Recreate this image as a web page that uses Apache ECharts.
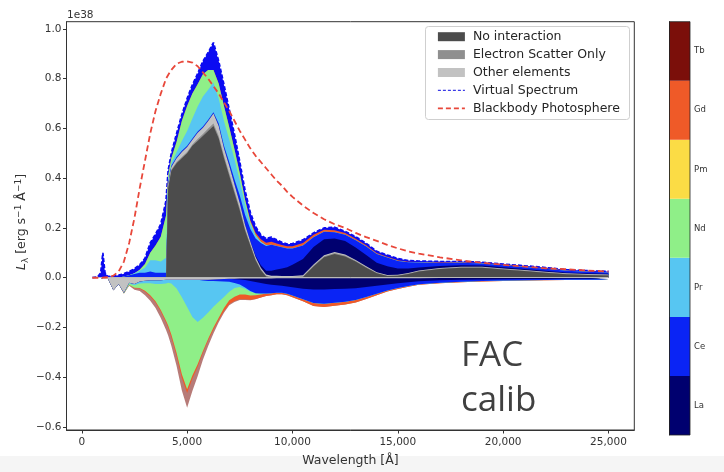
<!DOCTYPE html>
<html><head><meta charset="utf-8">
<script src="https://cdn.jsdelivr.net/npm/echarts@6/dist/echarts.min.js"></script>
<style>html,body{margin:0;padding:0;background:#fff}#c{width:724px;height:472px}</style>
</head><body><div id="c"></div>
<script>
// ---------------- DATA (units of 1e38 erg s^-1 Å^-1) ----------------
const wavelengths = [500,750,900,1000,1100,1250,1500,1750,2000,2250,2500,2750,3000,3250,3500,3750,4000,
  4100,4250,4500,4750,5000,5250,5500,5750,6000,6250,6500,6750,7000,7250,7500,7750,8000,8250,8500,8750,9000,9250,9500,9750,10000,
  10500,11000,11500,12000,12500,13000,13500,14000,14500,15000,15500,16000,17000,18000,19000,20000,21000,22000,23000,24000,25000];

const noInteraction = [0,0,0,0,0,0,0,0,0,0,0,0,0,0,0,0,0,
  0.36,0.43,0.46,0.48,0.5,0.53,0.55,0.57,0.59,0.61,0.56,0.48,0.41,0.34,0.27,0.19,0.13,0.07,0.03,0.005,0,0,0,0,0,
  0.003,0.045,0.082,0.095,0.085,0.065,0.04,0.018,0.007,0.008,0.015,0.025,0.035,0.04,0.04,0.033,0.027,0.02,0.014,0.011,0.009];
const electronScatter = [0,0,0,0,0,0,0,0,0,0,0,0,0,0,0,0,0,
  0.005,0.005,0.005,0.005,0.005,0.005,0.008,0.008,0.01,0.01,0.01,0.01,0.01,0.01,0.01,0.008,0.006,0.005,0.004,0.003,0.003,0.003,0.003,0.003,0.003,
  0.003,0.004,0.004,0.004,0.004,0.003,0.003,0.002,0.002,0.002,0.002,0.002,0.002,0.002,0.002,0.002,0.002,0.002,0.002,0.002,0.002];
const otherEmission = [0,0,0,0,0,0,0,0,0,0,0,0,0,0,0,0,0,
  0.01,0.01,0.015,0.02,0.02,0.02,0.025,0.025,0.03,0.04,0.04,0.03,0.03,0.025,0.02,0.015,0.01,0.008,0.006,0.005,0.005,0.005,0.004,0.004,0.004,
  0.004,0.004,0.004,0.004,0.004,0.003,0.003,0.002,0.002,0.002,0.002,0.002,0.002,0.002,0.002,0.002,0.002,0.002,0.002,0.002,0.002];
const laEmission = [0,0,0,0,0,0,0,0,0,0,0,0,0,0,0,0,0,
  0,0,0,0,0,0,0,0,0,0,0,0,0,0,0,0,0,0.005,0.01,0.015,0.02,0.025,0.03,0.035,0.045,
  0.065,0.07,0.065,0.055,0.055,0.05,0.045,0.038,0.035,0.025,0.018,0.012,0.008,0.006,0.005,0.005,0.004,0.004,0.003,0.003,0.003];
const ceEmission = [0,0,0,0,0,0,0,0,0.005,0.01,0.015,0.02,0.02,0.025,0.02,0.02,0.02,
  0.005,0.005,0.005,0.005,0.005,0.005,0.005,0.005,0.005,0.005,0.01,0.01,0.015,0.02,0.03,0.04,0.05,0.07,0.09,0.1,0.105,0.095,0.085,0.075,0.065,
  0.055,0.04,0.03,0.025,0.025,0.03,0.035,0.035,0.035,0.03,0.025,0.02,0.012,0.01,0.008,0.008,0.008,0.008,0.007,0.006,0.005];
const prEmission = [0,0,0,0,0,0,0,0,0,0,0.003,0.008,0.02,0.045,0.05,0.045,0.06,
  0.01,0.01,0.02,0.04,0.06,0.08,0.1,0.12,0.12,0.12,0.1,0.1,0.09,0.08,0.06,0.04,0.02,0.01,0.005,0.003,0,0,0,0,0,
  0,0,0,0,0,0,0,0,0,0,0,0,0,0,0,0,0,0,0,0,0];
const ndEmission = [0,0,0,0,0,0,0,0,0,0,0,0.004,0.015,0.03,0.06,0.1,0.17,
  0.02,0.02,0.04,0.08,0.1,0.1,0.09,0.09,0.08,0.05,0.06,0.06,0.05,0.04,0.03,0.02,0.01,0.005,0,0,0,0,0,0,0,
  0,0,0,0,0,0,0,0,0,0,0,0,0,0,0,0,0,0,0,0,0];
const gdEmission = [0,0,0,0,0,0,0,0,0,0,0,0,0,0,0,0,0,
  0,0,0,0,0,0,0,0,0,0,0,0,0,0,0,0,0.005,0.008,0.01,0.01,0.012,0.01,0.01,0.01,0.01,
  0.01,0.01,0.008,0.008,0.007,0.006,0.005,0.004,0.003,0.003,0.002,0.002,0.002,0.002,0.002,0.002,0.002,0.002,0.001,0.001,0.001];

const otherAbsorption = [0,0,0,-0.005,-0.005,-0.005,-0.05,-0.025,-0.06,-0.02,-0.025,-0.015,-0.012,-0.01,-0.01,-0.01,-0.008,
  -0.008,-0.008,-0.008,-0.008,-0.008,-0.008,-0.008,-0.008,-0.008,-0.007,-0.006,-0.005,-0.004,-0.004,-0.003,-0.003,-0.003,-0.003,-0.003,-0.003,-0.003,-0.002,-0.002,-0.002,-0.002,
  -0.002,-0.002,-0.002,-0.002,-0.002,-0.002,-0.002,-0.002,-0.002,-0.002,-0.002,-0.002,-0.001,-0.001,-0.001,-0.001,-0.001,-0.001,-0.001,-0.001,-0.001];
const laAbsorption = [0,0,0,0,0,0,0,0,0,0,0,0,0,0,0,0,0,
  0,0,0,0,0,0,0,0,0,0,0,0,0,-0.002,-0.004,-0.006,-0.01,-0.014,-0.018,-0.022,-0.025,-0.028,-0.03,-0.033,-0.036,
  -0.042,-0.045,-0.045,-0.043,-0.042,-0.04,-0.035,-0.03,-0.025,-0.02,-0.016,-0.012,-0.009,-0.007,-0.006,-0.005,-0.004,-0.004,-0.003,-0.003,-0.003];
const ceAbsorption = [0,0,0,0,0,0,0,0,0,0,0,0,0,0,0,0,0,
  0,0,0,0,0,0,0,-0.003,-0.005,-0.006,-0.008,-0.01,-0.012,-0.015,-0.02,-0.03,-0.04,-0.045,-0.042,-0.038,-0.034,-0.03,-0.028,-0.029,-0.033,
  -0.042,-0.055,-0.058,-0.056,-0.053,-0.048,-0.04,-0.032,-0.024,-0.019,-0.015,-0.012,-0.01,-0.008,-0.006,-0.005,-0.005,-0.004,-0.004,-0.004,-0.004];
const prAbsorption = [0,0,0,0,0,0,0,0,0,-0.003,-0.005,-0.008,-0.01,-0.012,-0.015,-0.015,-0.015,
  -0.012,-0.015,-0.035,-0.07,-0.11,-0.15,-0.17,-0.15,-0.127,-0.104,-0.083,-0.062,-0.04,-0.02,-0.01,-0.005,-0.003,0,0,0,0,0,0,0,0,
  0,0,0,0,0,0,0,0,0,0,0,0,0,0,0,0,0,0,0,0,0];
const ndAbsorption = [0,0,0,0,0,0,0,0,-0.003,-0.006,-0.01,-0.018,-0.03,-0.048,-0.07,-0.105,-0.15,
  -0.172,-0.205,-0.26,-0.31,-0.33,-0.235,-0.17,-0.133,-0.105,-0.083,-0.064,-0.045,-0.035,-0.035,-0.03,-0.023,-0.015,-0.008,-0.004,0,0,0,0,0,0,
  0,0,0,0,0,0,0,0,0,0,0,0,0,0,0,0,0,0,0,0,0];
const gdAbsorption = [0,0,0,0,0,0,0,0,0,0,-0.002,-0.002,-0.004,-0.005,-0.005,-0.006,-0.007,
  -0.008,-0.01,-0.012,-0.015,-0.015,-0.012,-0.01,-0.008,-0.007,-0.008,-0.008,-0.012,-0.015,-0.018,-0.02,-0.02,-0.018,-0.015,-0.012,-0.01,-0.008,-0.006,-0.006,-0.006,-0.007,
  -0.009,-0.012,-0.013,-0.012,-0.011,-0.01,-0.008,-0.006,-0.004,-0.004,-0.003,-0.002,-0.002,-0.002,-0.002,-0.002,-0.001,-0.001,-0.001,0,0];
const tbAbsorption = [0,0,0,0,0,0,0,0,0,-0.003,-0.006,-0.01,-0.014,-0.018,-0.022,-0.026,-0.03,
  -0.032,-0.035,-0.04,-0.05,-0.06,-0.05,-0.038,-0.028,-0.022,-0.016,-0.01,-0.007,-0.005,-0.004,-0.003,-0.003,-0.002,-0.002,0,0,0,0,0,0,0,
  0,0,0,0,0,0,0,0,0,0,0,0,0,0,0,0,0,0,0,0,0];

const virtualSpectrum = [0,0.003,0.02,0.1,0.02,0.004,0.007,0.01,0.016,0.025,0.036,0.052,0.078,0.14,0.175,0.215,0.31,
  0.43,0.5,0.58,0.655,0.72,0.775,0.82,0.87,0.905,0.945,0.87,0.775,0.675,0.575,0.465,0.35,0.262,0.205,0.172,0.157,0.163,0.152,0.142,0.135,0.137,
  0.152,0.18,0.2,0.203,0.186,0.165,0.138,0.106,0.091,0.077,0.069,0.067,0.065,0.065,0.062,0.055,0.048,0.041,0.032,0.028,0.025];
const blackbody = [0,0,0,0,0.001,0.002,0.008,0.025,0.065,0.14,0.24,0.36,0.47,0.58,0.67,0.74,0.8,
  0.815,0.835,0.86,0.868,0.87,0.865,0.85,0.825,0.8,0.77,0.74,0.705,0.67,0.63,0.59,0.555,0.52,0.49,0.465,0.44,0.415,0.39,0.37,0.345,0.325,
  0.29,0.26,0.235,0.215,0.2,0.18,0.163,0.148,0.132,0.118,0.106,0.097,0.082,0.07,0.06,0.052,0.045,0.038,0.034,0.029,0.025];

const elements = ['La','Ce','Pr','Nd','Pm','Gd','Tb'];
const elementColors = ['#00006f','#0a24f5','#57c6f2','#8fef88','#fbdc45','#ef5a28','#7b0f0a'];
const xTicks = [0,5000,10000,15000,20000,25000];
const yTicks = [-0.6,-0.4,-0.2,0,0.2,0.4,0.6,0.8,1.0];

// ---------------- CHART ----------------
const allArrays = {noInteraction,electronScatter,otherEmission,laEmission,ceEmission,prEmission,ndEmission,gdEmission,
  otherAbsorption,laAbsorption,ceAbsorption,prAbsorption,ndAbsorption,gdAbsorption,tbAbsorption,virtualSpectrum,blackbody};
for (const k in allArrays) if (allArrays[k].length !== wavelengths.length) throw new Error(k + ' length ' + allArrays[k].length);

const pairs = vals => wavelengths.map((w, i) => [w, vals[i]]);
const G = '#4c4c4c', G2 = '#8f8f8f', G3 = '#c2c2c2';

// stacked layers (bottom -> top), drawn as cumulative areas from the top layer down
const emissionLayers = [
  ['No interaction', noInteraction, G], ['Electron Scatter Only', electronScatter, G2], ['Other elements', otherEmission, G3],
  ['La', laEmission, elementColors[0]], ['Ce', ceEmission, elementColors[1]], ['Pr', prEmission, elementColors[2]],
  ['Nd', ndEmission, elementColors[3]], ['Gd', gdEmission, elementColors[5]]
];
const absorptionLayers = [
  ['Other elements', otherAbsorption, G3], ['La', laAbsorption, elementColors[0]], ['Ce', ceAbsorption, elementColors[1]],
  ['Pr', prAbsorption, elementColors[2]], ['Nd', ndAbsorption, elementColors[3]], ['Gd', gdAbsorption, elementColors[5]],
  ['Tb', tbAbsorption, elementColors[6], 0.55]
];
function cumulativeSeries(layers) {
  const out = [];
  let run = wavelengths.map(() => 0);
  const cums = layers.map(l => { run = run.map((v, i) => v + l[1][i]); return run; });
  for (let k = layers.length - 1; k >= 0; k--) {
    const [name, , color, op] = layers[k];
    out.push({type:'line', name, data:pairs(cums[k]), symbol:'none', showSymbol:false, smooth:false,
      color, itemStyle:{color}, lineStyle:{width:0, opacity:0},
      areaStyle:{color, opacity: op == null ? 1 : op}, z:2, silent:true, animation:false});
  }
  return out;
}
const posSeries = cumulativeSeries(emissionLayers);
const negSeries = cumulativeSeries(absorptionLayers);
negSeries[negSeries.length - 1].markLine = {silent:true, symbol:['none','none'], label:{show:false}, z:5,
  lineStyle:{color:'#b9b9b9', width:1, type:'solid'},
  data:[[{coord:[wavelengths[0],0]},{coord:[wavelengths[wavelengths.length-1],0]}]]};

const series = [
  {type:'line', name:'Virtual Spectrum', data:pairs(virtualSpectrum), symbol:'none', showSymbol:false, color:'#0b0bf2',
    itemStyle:{color:'#0b0bf2'}, lineStyle:{color:'#0b0bf2', width:1.8, type:[4,2]}, areaStyle:{color:'#0b0bf2', opacity:1},
    z:1, silent:true, animation:false},
  ...posSeries,
  ...negSeries,
  {type:'line', name:'Blackbody Photosphere', data:pairs(blackbody), symbol:'none', showSymbol:false, color:'#e8473a',
    itemStyle:{color:'#e8473a'}, lineStyle:{color:'#e8473a', width:1.8, type:[6,3.5]}, z:6, silent:true, animation:false},
  {type:'bar', xAxisIndex:1, yAxisIndex:1, barWidth:'100%', barCategoryGap:'0%', silent:true, animation:false,
    data: elements.map((e, i) => ({value:1, itemStyle:{color:elementColors[i]}}))}
];

const FONT = 'DejaVu Sans';
const option = {
  animation:false,
  backgroundColor:'#ffffff',
  grid:[
    {left:66.5, top:21.7, width:567.8, height:412.3, show:true, borderColor:'#333', borderWidth:1, backgroundColor:'transparent'},
    {left:669.5, top:21.7, width:20.5, height:413.3, show:false}
  ],
  xAxis:[
    {type:'value', gridIndex:0, min:-725, max:26225, splitLine:{show:false},
      axisLine:{show:true, onZero:false, lineStyle:{color:'#333', width:1}},
      axisTick:{show:true, length:3.5, customValues:xTicks, lineStyle:{color:'#333'}},
      axisLabel:{customValues:xTicks, fontSize:10.5, fontFamily:FONT, color:'#333', margin:7},
      name:'Wavelength [Å]', nameLocation:'middle', nameGap:24,
      nameTextStyle:{fontSize:12.5, fontFamily:FONT, color:'#333'}},
    {type:'value', gridIndex:1, min:0, max:1, show:false}
  ],
  yAxis:[
    {type:'value', gridIndex:0, min:-0.612, max:1.029, splitLine:{show:false},
      axisLine:{show:true, onZero:false, lineStyle:{color:'#333', width:1}},
      axisTick:{show:true, length:3.5, customValues:yTicks, lineStyle:{color:'#333'}},
      axisLabel:{customValues:yTicks, fontSize:10.5, fontFamily:FONT, color:'#333', margin:5,
        formatter: v => v.toFixed(1).replace('-', '\u2212')}},
    {type:'category', gridIndex:1, data:elements, position:'right', boundaryGap:true,
      axisLine:{show:true, lineStyle:{color:'#222'}},
      axisTick:{show:true, length:3, alignWithLabel:true, lineStyle:{color:'#222'}},
      axisLabel:{fontSize:8.5, fontFamily:FONT, color:'#333', margin:4}}
  ],
  legend:{show:true, orient:'vertical', left:437, top:29.7, padding:0, itemGap:3.9, itemWidth:27, itemHeight:9,
    selectedMode:false, z:6,
    textStyle:{fontSize:12.5, fontFamily:FONT, color:'#262626', lineHeight:14, padding:[0,0,0,3]},
    itemStyle:{borderWidth:0},
    data:[
      {name:'No interaction', icon:'rect'},
      {name:'Electron Scatter Only', icon:'rect'},
      {name:'Other elements', icon:'rect'},
      {name:'Virtual Spectrum', itemStyle:{opacity:0}, lineStyle:{width:1.2, type:[3,2], color:'#3b3be6'}},
      {name:'Blackbody Photosphere', itemStyle:{opacity:0}, lineStyle:{width:1.8, type:[5,3], color:'#e8473a'}}
    ]},
  graphic:[
    {type:'rect', z:-10, shape:{x:0, y:456, width:724, height:16}, style:{fill:'#f5f5f5'}},
    {type:'rect', z:4, shape:{x:425.5, y:26.5, width:204, height:93, r:3}, style:{fill:'rgba(255,255,255,0.85)', stroke:'#cfcfcf', lineWidth:1}},
    {type:'rect', z:10, shape:{x:669.5, y:21.7, width:20.5, height:413.3}, style:{fill:'none', stroke:'#222', lineWidth:0.8}},
    {type:'text', z:10, x:67, y:15, style:{text:'1e38', fontSize:10.5, fontFamily:FONT, fill:'#333', verticalAlign:'middle', align:'left'}},
    {type:'text', z:10, x:22, y:222, rotation:Math.PI/2,
      style:{text:'{it|L}{sub|λ} [erg s{sup|\u22121} Å{sup|\u22121}]', fontSize:12.5, fontFamily:FONT, fill:'#333',
        align:'center', verticalAlign:'middle',
        rich:{it:{fontSize:12.5, fontStyle:'italic', fontFamily:FONT, fill:'#333'},
              sub:{fontSize:9, fontFamily:FONT, fill:'#333', padding:[7,0,0,0]},
              sup:{fontSize:9, fontFamily:FONT, fill:'#333', padding:[0,0,7,0]}}}},
    {type:'text', z:10, x:461, y:355.7, style:{text:'FAC', fontSize:35, fontFamily:'Open Sans', fill:'#404040', verticalAlign:'middle', align:'left'}},
    {type:'text', z:10, x:461, y:400.7, style:{text:'calib', fontSize:35, fontFamily:'Open Sans', fill:'#404040', verticalAlign:'middle', align:'left'}}
  ],
  series
};
const chart = echarts.init(document.getElementById('c'), null, {renderer:'canvas'});
chart.setOption(option);
</script>
</body></html>
